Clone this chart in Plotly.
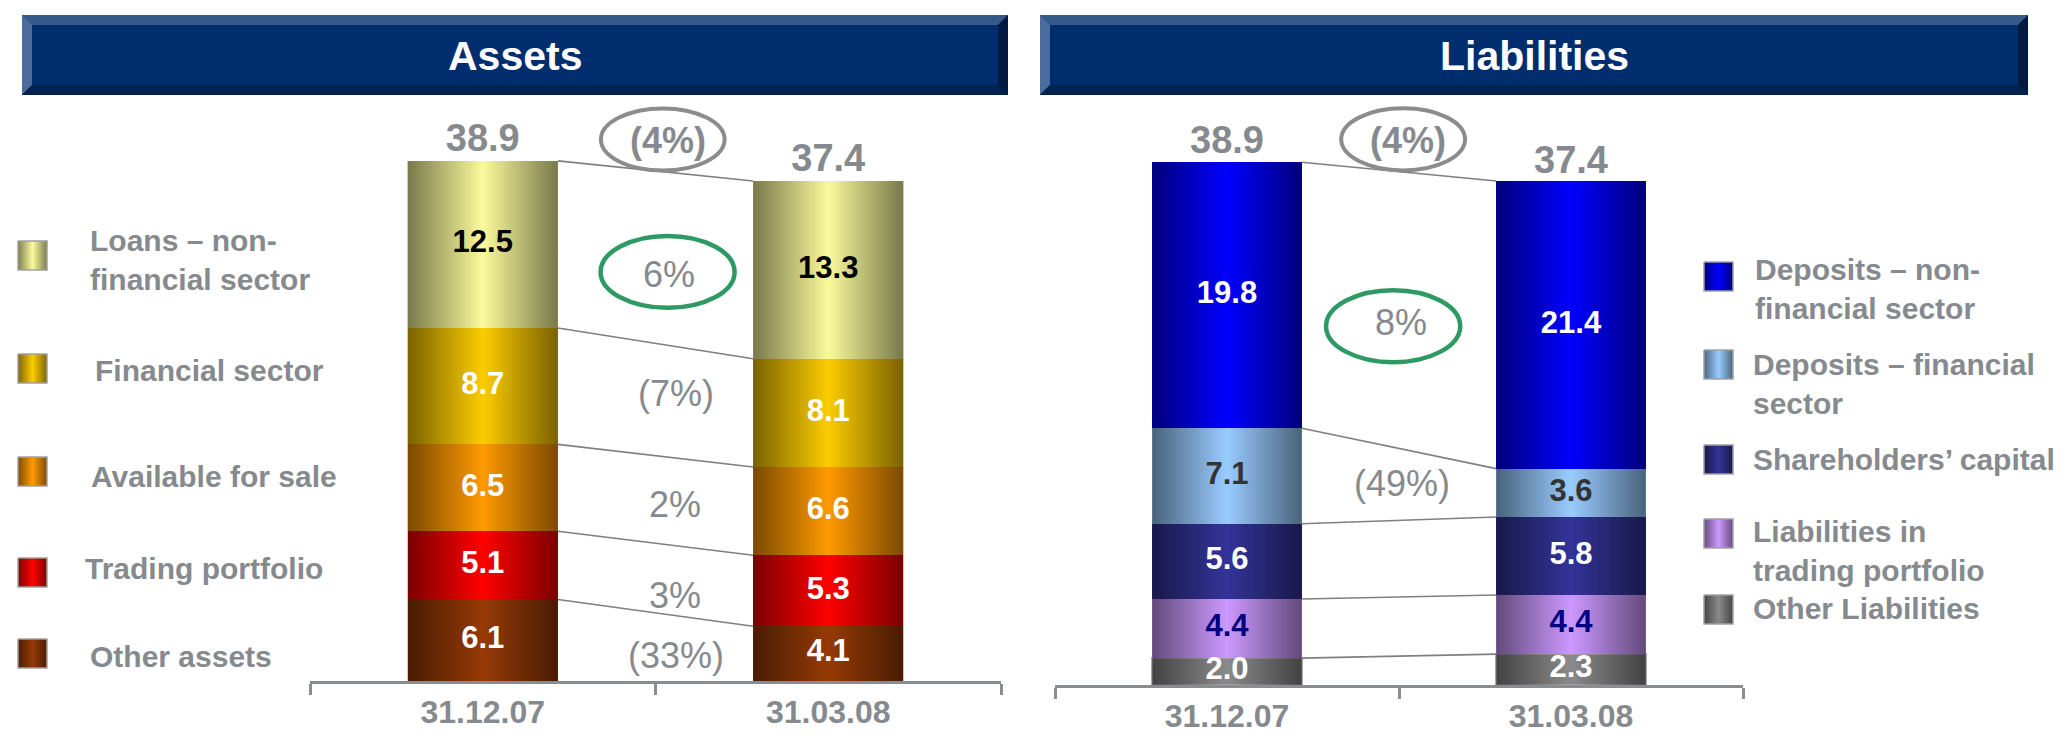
import plotly.graph_objects as go

W, H = 2070, 736
FONT = "Liberation Sans, Arial, sans-serif"
GRAY = "#868a8e"
AXIS_GRAY = "#8a8d90"
GREEN = "#2e9a63"

# ---------------- data ----------------
categories = ["31.12.07", "31.03.08"]

asset_names = ["Other assets", "Trading portfolio", "Available for sale",
               "Financial sector", "Loans – non-financial sector"]
other_assets = [6.1, 4.1]
trading_portfolio = [5.1, 5.3]
available_for_sale = [6.5, 6.6]
financial_sector = [8.7, 8.1]
loans_nonfin = [12.5, 13.3]
asset_totals = [38.9, 37.4]
asset_changes = ["(33%)", "3%", "2%", "(7%)", "6%"]
asset_total_change = "(4%)"

liab_names = ["Other Liabilities", "Liabilities in trading portfolio",
              "Shareholders’ capital", "Deposits – financial sector",
              "Deposits – non-financial sector"]
other_liab = [2.0, 2.3]
trading_liab = [4.4, 4.4]
shareholders_capital = [5.6, 5.8]
deposits_fin = [7.1, 3.6]
deposits_nonfin = [19.8, 21.4]
liab_totals = [38.9, 37.4]
liab_changes = ["", "", "", "(49%)", "8%"]
liab_total_change = "(4%)"

asset_series = [other_assets, trading_portfolio, available_for_sale, financial_sector, loans_nonfin]
liab_series = [other_liab, trading_liab, shareholders_capital, deposits_fin, deposits_nonfin]

# ---------------- styles ----------------
asset_colors = ["#963a06", "#ff0000", "#ff9900", "#fccc00", "#fafa9c"]
asset_text_colors = ["white", "white", "white", "white", "black"]
liab_colors = ["#8a8a8a", "#cc99ff", "#333399", "#99ccff", "#0000ff"]
liab_text_colors = ["white", "#000080", "white", "#333333", "white"]
BW = 0.435

# label positions (axis units): (x, y)
asset_change_pos = [(0.559, 1.9), (0.557, 6.4), (0.557, 13.2), (0.559, 21.5), (0.54, 30.4)]
liab_change_pos = [None, None, None, (0.509, 15.0), (0.506, 27.0)]
asset_total_change_pos = (0.535, 40.4)
liab_total_change_pos = (0.526, 40.5)
# ellipses (cx, cy, rx, ry)
asset_total_ellipse = (0.521, 40.5, 0.179, 2.32)
liab_total_ellipse = (0.512, 40.6, 0.180, 2.31)
asset_green_ellipse = (0.535, 30.6, 0.194, 2.69)
liab_green_ellipse = (0.483, 26.7, 0.195, 2.68)


def px(x):
    return x / W


def py(y):
    return 1 - y / H


fig = go.Figure()


def add_panel(series, names, colors, text_colors, totals, xa, ya, border_idx=None):
    xs = [0, 1]
    # stacked bars
    for i, (vals, name, col) in enumerate(zip(series, names, colors)):
        line = dict(width=0)
        if border_idx is not None and i == border_idx:
            line = dict(width=2.5, color="#a6a6a6")
        fig.add_trace(go.Bar(x=xs, y=vals, name=name, width=BW,
                             marker=dict(color=col, line=line),
                             xaxis=xa, yaxis=ya, showlegend=False, hoverinfo="skip"))
    # cumulative boundaries
    cums = []
    for j in range(2):
        c = [0.0]
        for vals in series:
            c.append(c[-1] + vals[j])
        cums.append(c)
    # shading overlay (dark edges, bright centre) over each column
    for j in range(2):
        x0, x1 = xs[j] - BW / 2, xs[j] + BW / 2
        top = cums[j][-1]
        fig.add_trace(go.Scatter(
            x=[x0, x1, x1, x0, x0], y=[0, 0, top, top, 0], mode="lines",
            fill="toself", line=dict(width=0),
            fillgradient=dict(type="horizontal", start=x0, stop=x1,
                              colorscale=[[0, "rgba(0,0,0,0.52)"], [0.5, "rgba(0,0,0,0)"],
                                          [1, "rgba(0,0,0,0.52)"]]),
            xaxis=xa, yaxis=ya, showlegend=False, hoverinfo="skip"))
    # connector lines
    for k in range(1, len(series) + 1):
        fig.add_trace(go.Scatter(
            x=[xs[0] + BW / 2, xs[1] - BW / 2], y=[cums[0][k], cums[1][k]],
            mode="lines", line=dict(color="#7f7f7f", width=1.6),
            xaxis=xa, yaxis=ya, showlegend=False, hoverinfo="skip"))
    # value labels
    for i, (vals, tc) in enumerate(zip(series, text_colors)):
        ys = [cums[j][i] + vals[j] / 2 for j in range(2)]
        fig.add_trace(go.Scatter(
            x=xs, y=ys, mode="text", text=[f"{v:.1f}" for v in vals],
            textposition="middle center",
            textfont=dict(family=FONT, size=31, color=tc, weight="bold"),
            xaxis=xa, yaxis=ya, showlegend=False, hoverinfo="skip", cliponaxis=False))
    # totals
    fig.add_trace(go.Scatter(
        x=xs, y=totals, mode="text", text=[f"{t:.1f}" for t in totals],
        textposition="top center",
        textfont=dict(family=FONT, size=38, color=GRAY, weight="bold"),
        xaxis=xa, yaxis=ya, showlegend=False, hoverinfo="skip", cliponaxis=False))


add_panel(asset_series, asset_names, asset_colors, asset_text_colors, asset_totals, "x", "y")
add_panel(liab_series, liab_names, liab_colors, liab_text_colors, liab_totals, "x2", "y2", border_idx=0)

annotations = []
shapes = []


def ellipse(e, xr, yr, color, width):
    cx, cy, rx, ry = e
    shapes.append(dict(type="circle", xref=xr, yref=yr, x0=cx - rx, x1=cx + rx,
                       y0=cy - ry, y1=cy + ry, line=dict(color=color, width=width)))


for lab, pos in zip(asset_changes, asset_change_pos):
    annotations.append(dict(x=pos[0], y=pos[1], xref="x", yref="y", text=lab, showarrow=False,
                            font=dict(family=FONT, size=36, color=GRAY)))
for lab, pos in zip(liab_changes, liab_change_pos):
    if pos is None:
        continue
    annotations.append(dict(x=pos[0], y=pos[1], xref="x2", yref="y2", text=lab, showarrow=False,
                            font=dict(family=FONT, size=36, color=GRAY)))
annotations.append(dict(x=asset_total_change_pos[0], y=asset_total_change_pos[1], xref="x", yref="y",
                        text=asset_total_change, showarrow=False,
                        font=dict(family=FONT, size=36, color=GRAY, weight="bold")))
annotations.append(dict(x=liab_total_change_pos[0], y=liab_total_change_pos[1], xref="x2", yref="y2",
                        text=liab_total_change, showarrow=False,
                        font=dict(family=FONT, size=36, color=GRAY, weight="bold")))
ellipse(asset_total_ellipse, "x", "y", "#8c8c8c", 4)
ellipse(liab_total_ellipse, "x2", "y2", "#8c8c8c", 4)
ellipse(asset_green_ellipse, "x", "y", GREEN, 4.5)
ellipse(liab_green_ellipse, "x2", "y2", GREEN, 4.5)

# ---------------- header banners ----------------
def banner(x0, x1, title):
    y0, y1, b = 7, 87, 10
    def path(pts):
        return "M " + " L ".join(f"{px(a)},{py(c)}" for a, c in pts) + " Z"
    shapes.append(dict(type="rect", xref="paper", yref="paper", x0=px(x0), x1=px(x1),
                       y0=py(y1), y1=py(y0), fillcolor="#002d6e", line=dict(width=0), layer="below"))
    shapes.append(dict(type="path", xref="paper", yref="paper",
                       path=path([(x0, y0), (x1, y0), (x1 - b, y0 + b), (x0 + b, y0 + b)]),
                       fillcolor="#345a8c", line=dict(width=0)))
    shapes.append(dict(type="path", xref="paper", yref="paper",
                       path=path([(x0, y0), (x0 + b, y0 + b), (x0 + b, y1 - b), (x0, y1)]),
                       fillcolor="#4b6c9c", line=dict(width=0)))
    shapes.append(dict(type="path", xref="paper", yref="paper",
                       path=path([(x0, y1), (x0 + b, y1 - b), (x1 - b, y1 - b), (x1, y1)]),
                       fillcolor="#00244f", line=dict(width=0)))
    shapes.append(dict(type="path", xref="paper", yref="paper",
                       path=path([(x1, y0), (x1 - b, y0 + b), (x1 - b, y1 - b), (x1, y1)]),
                       fillcolor="#001a40", line=dict(width=0)))
    annotations.append(dict(x=px((x0 + x1) / 2), y=py(48), xref="paper", yref="paper",
                            text=title, showarrow=False, xanchor="center", yanchor="middle",
                            font=dict(family=FONT, size=41, color="white", weight="bold")))


banner(14, 1000, "Assets")
banner(1032, 2020, "Liabilities")

# ---------------- custom legends (pixel overlay axes) ----------------
asset_legend_text = ["Other assets", "Trading portfolio", "Available for sale",
                     "Financial sector", "Loans – non-<br>financial sector"]
asset_legend_pos = [  # (square top, text x, text centre y)
    (631, 80, 648), (550, 75, 560), (449, 81, 468), (346, 85, 362), (233, 80, 252)]
liab_legend_text = ["Other Liabilities", "Liabilities in<br>trading portfolio",
                    "Shareholders’ capital", "Deposits – financial<br>sector",
                    "Deposits – non-<br>financial sector"]
liab_legend_pos = [(587, 1743, 600), (511, 1743, 543), (437, 1743, 452),
                   (342, 1743, 376), (254, 1745, 281)]


def legend_items(texts, colors, positions, sq_x):
    for t, col, (sy, tx, ty) in zip(texts, colors, positions):
        x0, x1 = sq_x, sq_x + 29
        y0, y1 = sy, sy + 29
        fig.add_trace(go.Scatter(x=[x0, x1, x1, x0, x0], y=[y0, y0, y1, y1, y0], mode="lines",
                                 fill="toself", fillcolor=col, line=dict(width=0),
                                 xaxis="x3", yaxis="y3", showlegend=False, hoverinfo="skip"))
        fig.add_trace(go.Scatter(x=[x0, x1, x1, x0, x0], y=[y0, y0, y1, y1, y0], mode="lines",
                                 fill="toself", line=dict(width=1.5, color="#a0a0a0"),
                                 fillgradient=dict(type="horizontal", start=x0, stop=x1,
                                                   colorscale=[[0, "rgba(0,0,0,0.5)"],
                                                               [0.5, "rgba(0,0,0,0)"],
                                                               [1, "rgba(0,0,0,0.5)"]]),
                                 xaxis="x3", yaxis="y3", showlegend=False, hoverinfo="skip"))
        annotations.append(dict(x=px(tx), y=py(ty), xref="paper", yref="paper", text=t,
                                showarrow=False, xanchor="left", yanchor="middle", align="left",
                                font=dict(family=FONT, size=30, color=GRAY, weight="bold")))


legend_items(asset_legend_text, asset_colors, asset_legend_pos, 10)
legend_items(liab_legend_text, liab_colors, liab_legend_pos, 1696)

# ---------------- axes ----------------
def xaxis_cfg(domain, anchor):
    return dict(domain=domain, anchor=anchor, range=[-0.5, 1.5], tickmode="array",
                tickvals=[0, 1], ticktext=categories, ticks="", showgrid=False, zeroline=False,
                showline=True, linecolor=AXIS_GRAY, linewidth=3, fixedrange=True,
                tickfont=dict(family=FONT, size=32, color=GRAY, weight="bold"),
                ticklabelstandoff=1,
                minor=dict(tickmode="array", tickvals=[-0.5, 0.5, 1.5], ticks="outside",
                           ticklen=11, tickwidth=3, tickcolor=AXIS_GRAY, showgrid=False))


def yaxis_cfg(domain, anchor, top):
    return dict(domain=domain, anchor=anchor, range=[0, top], visible=False,
                showgrid=False, zeroline=False, fixedrange=True)


fig.update_layout(
    width=W, height=H, margin=dict(l=0, r=0, t=0, b=0),
    paper_bgcolor="white", plot_bgcolor="rgba(0,0,0,0)",
    barmode="stack", bargap=0, showlegend=False,
    xaxis=xaxis_cfg([302 / W, 993 / W], "y"),
    yaxis=yaxis_cfg([1 - 673 / H, 1 - 92 / H], "x", (673 - 92) / 13.37),
    xaxis2=xaxis_cfg([1047 / W, 1735 / W], "y2"),
    yaxis2=yaxis_cfg([1 - 677 / H, 1 - 92 / H], "x2", (677 - 92) / 13.44),
    xaxis3=dict(domain=[0, 1], anchor="y3", range=[0, W], visible=False, fixedrange=True),
    yaxis3=dict(domain=[0, 1], anchor="x3", range=[H, 0], visible=False, fixedrange=True),
    annotations=annotations, shapes=shapes,
)

fig.write_html("out.html")
